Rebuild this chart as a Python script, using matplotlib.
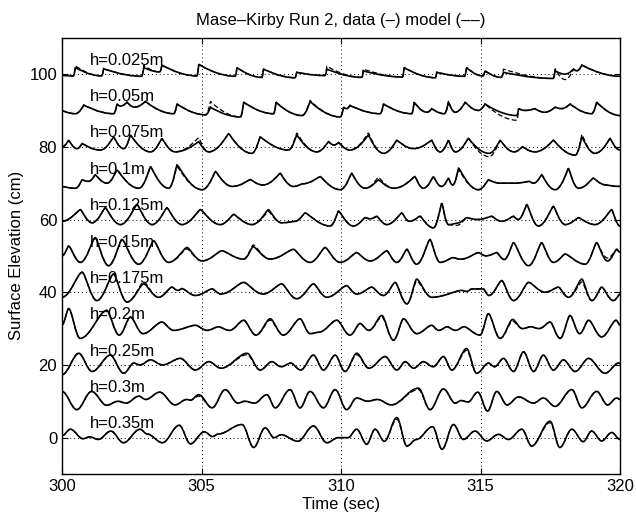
import matplotlib
matplotlib.use("Agg")
import matplotlib.pyplot as plt
from matplotlib.path import Path
from matplotlib.patches import PathPatch

plt.rcParams['font.family'] = ['Liberation Sans', 'DejaVu Sans']

# gauge water depths and the vertical offset each record is plotted at (cm)
depths = ["0.025", "0.05", "0.075", "0.1", "0.125", "0.15",
          "0.175", "0.2", "0.25", "0.3", "0.35"]
offsets = [100, 90, 80, 70, 60, 50, 40, 30, 20, 10, 0]

# crest / trough times (s) and elevations about the offset (cm);
# measured record and model share the same turning-point times
t_025 = [300.0, 300.40, 300.48, 301.42, 301.49, 302.85, 302.93, 303.50, 303.58, 304.83,
         304.90, 306.20, 306.27, 307.16, 307.22, 308.35, 308.41, 309.42, 309.49, 310.74,
         310.80, 312.20, 312.26, 313.38, 313.43, 314.42, 314.50, 315.08, 315.16, 315.74,
         315.82, 317.60, 317.67, 318.03, 318.33, 318.45, 318.63, 320.0]
data_025 = [-0.3, -0.5, 1.8, -0.5, 1.5, -0.6, 1.8, 0.6, 2.5, -0.5,
            2.7, -0.6, 1.8, -0.9, 1.4, -1.0, 0.5, -0.4, 1.4, -0.9,
            0.9, -0.8, 1.8, -1.0, 0.5, -0.6, 1.8, -0.5, 0.9, -0.9,
            0.5, -1.2, 0.9, 0.0, 1.4, 0.9, 2.5, -0.6]
model_025 = [-0.3, -0.5, 2.3, -0.5, 1.5, -0.6, 2.4, 0.6, 2.5, -0.5,
             2.7, -0.6, 1.8, -0.9, 1.4, -1.0, 0.5, -0.4, 2.2, -0.9,
             1.4, -0.8, 1.8, -1.0, 0.5, -0.6, 1.8, -0.5, 0.9, -0.9,
             1.4, -1.2, 1.5, -1.5, 1.4, 0.9, 2.5, -0.6]

t_05 = [300.0, 300.48, 300.78, 301.85, 301.97, 302.10, 302.33, 302.60, 302.99, 304.00,
        304.12, 305.14, 305.32, 306.39, 306.51, 307.58, 307.67, 308.60, 308.89, 309.97,
        310.09, 310.20, 310.32, 311.40, 311.52, 312.53, 312.62, 313.08, 313.25, 313.70,
        313.85, 314.09, 314.45, 314.92, 315.16, 316.30, 316.36, 316.60, 316.95, 317.30,
        317.67, 317.90, 318.21, 318.98, 319.16, 320.0]
data_05 = [0.0, -0.9, 1.5, -0.9, 1.8, 1.2, 2.3, 0.9, 2.5, -0.9,
           1.8, -1.2, 0.9, -1.8, 2.3, -0.9, 2.3, -1.4, 2.5, -1.8,
           0.9, 0.5, 1.4, -0.9, 1.8, -0.9, 2.3, -0.5, 0.5, -0.9,
           2.3, -0.5, 2.3, 0.0, 1.8, -1.4, 0.5, 0.0, 0.5, -0.5,
           0.9, 0.5, 1.8, -0.9, 2.3, -1.4]
model_05 = [0.0, -0.9, 1.5, -0.9, 1.8, 1.2, 2.3, 0.9, 2.5, -0.9,
            1.8, -1.2, 2.5, -1.8, 2.3, -0.9, 2.3, -1.4, 2.8, -1.8,
            0.9, 0.5, 1.4, -0.9, 1.8, -0.9, 2.3, -0.5, 0.5, -0.9,
            2.6, -0.5, 2.3, 0.0, 1.8, -2.7, 0.5, 0.0, 0.5, -0.5,
            0.9, 0.5, 1.8, -0.9, 2.3, -1.4]

t_075 = [300.0, 300.24, 300.54, 300.72, 301.37, 301.85, 302.21, 302.45, 303.17, 303.58,
         304.06, 304.90, 305.26, 305.97, 306.80, 307.10, 308.11, 308.41, 309.13, 309.55,
         309.75, 309.91, 310.32, 310.98, 311.52, 312.00, 312.60, 313.25, 313.55, 313.85,
         314.10, 314.56, 315.30, 315.70, 316.20, 316.50, 316.95, 317.61, 318.39, 318.63,
         319.10, 319.64, 320.0]
data_075 = [0.0, 1.8, -0.5, 0.9, -0.9, 2.7, -0.5, 3.2, -1.4, 2.3,
            -1.4, 1.4, -1.4, 3.6, -1.8, 2.7, -0.9, 3.2, -1.4, 1.4,
            0.5, 1.2, -0.9, 3.2, -1.8, 1.8, -0.5, 1.8, -1.4, 1.8,
            -1.4, 2.3, -1.8, 1.8, -1.4, 0.0, -1.4, 1.8, -2.3, 2.7,
            -1.8, 2.3, -0.9]
model_075 = [0.0, 1.8, -0.5, 0.9, -0.9, 2.7, -0.5, 3.2, -1.4, 2.3,
             -1.4, 2.5, -1.4, 3.6, -1.8, 2.7, -0.9, 3.8, -1.4, 1.4,
             0.5, 1.2, -0.9, 3.8, -1.8, 1.8, -0.5, 1.8, -1.4, 1.8,
             -1.4, 2.3, -2.7, 1.8, -1.4, 0.0, -1.4, 1.8, -2.3, 3.4,
             -1.8, 2.3, -0.9]

t_1 = [300.0, 300.48, 300.72, 300.95, 301.19, 301.61, 301.97, 302.75, 303.17, 303.82,
       304.12, 305.02, 305.50, 306.10, 306.75, 307.20, 307.82, 308.29, 308.60, 309.25,
       309.97, 310.38, 310.86, 311.34, 311.90, 312.65, 312.95, 313.31, 313.60, 313.85,
       314.00, 314.21, 314.92, 315.28, 315.70, 316.20, 316.75, 316.90, 317.19, 317.67,
       318.15, 318.51, 319.04, 319.50, 320.0]
data_1 = [-0.9, -1.4, 0.9, 0.5, 2.3, 0.0, 3.6, -1.4, 4.5, -1.4,
          5.0, -1.8, 3.2, -0.9, 1.0, -0.5, 2.7, -0.9, -0.2, 1.8,
          -1.8, 2.7, -1.4, 0.9, -1.4, 1.8, -1.4, 1.8, -0.9, 1.4,
          -0.5, 4.1, -1.8, 0.9, 0.0, 0.0, 0.5, 0.0, 2.3, -1.8,
          4.1, -1.4, 1.4, -0.5, -0.9]
model_1 = [-0.9, -1.4, 0.9, 0.5, 2.3, 0.0, 3.6, -1.4, 4.5, -1.4,
           4.5, -1.8, 3.2, -0.9, 1.0, -0.5, 2.7, -0.9, -0.2, 1.8,
           -1.8, 2.7, -1.4, 1.6, -1.4, 1.8, -1.4, 1.8, -0.9, 1.4,
           -0.5, 3.6, -1.8, 0.9, 0.0, 0.0, 0.5, 0.0, 2.3, -1.8,
           3.8, -1.4, 1.4, -0.5, -0.9]

t_125 = [300.0, 300.66, 301.08, 301.55, 302.09, 302.69, 303.23, 303.76, 304.30, 304.96,
         305.67, 306.15, 306.81, 307.40, 307.87, 308.35, 308.71, 309.61, 309.91, 310.44,
         310.86, 311.05, 311.28, 311.64, 312.18, 312.45, 312.83, 313.31, 313.61, 313.85,
         314.15, 314.50, 314.90, 315.40, 315.75, 316.18, 316.35, 316.66, 317.07, 317.61,
         318.03, 318.51, 319.10, 319.70, 320.0]
data_125 = [-0.5, 2.7, -0.9, 3.2, -1.4, 4.1, -1.4, 3.2, -1.4, 2.7,
            -1.4, 1.4, -1.4, 2.7, -0.9, -0.5, 1.8, -1.8, 2.3, -1.8,
            0.5, 0.2, 0.9, -1.4, 1.8, -0.5, 0.9, -2.3, 4.5, -1.4,
            -1.0, 0.5, 0.0, 0.9, -0.5, 0.9, 0.0, 4.1, -1.8, 3.6,
            -1.4, 0.5, -1.4, 2.7, -1.8]
model_125 = [-0.5, 2.7, -0.9, 3.2, -1.4, 4.1, -1.4, 3.2, -1.4, 2.7,
             -1.4, 1.4, -1.4, 2.2, -0.9, -0.5, 1.8, -1.8, 2.3, -1.8,
             0.5, 0.2, 0.9, -1.4, 1.8, -0.5, 0.9, -2.3, 4.2, -1.4,
             -1.6, 0.5, 0.0, 0.9, -0.5, 0.9, 0.0, 4.1, -1.8, 3.6,
             -1.4, 0.5, -1.4, 2.7, -1.8]

t_15 = [300.0, 300.24, 300.66, 301.19, 301.67, 302.15, 302.75, 303.29, 303.82, 304.48,
        305.02, 305.73, 306.51, 306.85, 307.46, 308.29, 308.89, 309.43, 309.97, 310.56,
        311.04, 311.64, 312.00, 312.36, 312.71, 313.19, 313.55, 314.00, 314.30, 314.92,
        315.20, 315.58, 315.85, 316.18, 316.72, 317.19, 317.61, 318.03, 318.75, 319.16,
        319.55, 319.88, 320.0]
data_15 = [0.0, 2.7, -1.8, 5.0, -2.7, 4.5, -2.3, 4.1, -1.8, 2.3,
           -1.4, 1.4, -0.9, 2.5, -0.9, 1.8, -1.8, 2.3, -1.8, 0.9,
           -1.4, 1.4, -1.8, 1.8, -2.3, 4.5, -1.8, -0.5, -0.9, 0.9,
           0.0, 0.9, -1.0, 3.6, -2.7, 3.6, -1.8, 0.5, -2.3, 3.6,
           -1.4, 1.8, 1.0]
model_15 = [0.0, 2.7, -1.8, 5.0, -2.7, 4.5, -2.3, 4.1, -1.8, 1.9,
            -1.4, 1.4, -0.9, 3.0, -0.9, 1.8, -1.8, 2.3, -1.8, 0.9,
            -1.4, 1.4, -1.8, 1.8, -2.3, 4.5, -1.8, -0.5, -0.9, 0.9,
            0.0, 0.9, -1.0, 3.6, -2.7, 3.6, -1.8, 0.5, -2.3, 3.6,
            -0.6, 1.8, 1.0]

t_175 = [300.0, 300.72, 301.25, 301.85, 302.33, 302.93, 303.46, 303.94, 304.15, 304.30,
         304.78, 305.38, 305.70, 306.51, 307.20, 307.87, 308.41, 309.01, 309.49, 310.20,
         310.56, 311.10, 311.52, 311.94, 312.36, 312.71, 313.25, 314.33, 314.50, 314.68,
         315.10, 315.30, 315.76, 316.18, 316.72, 317.31, 317.79, 318.15, 318.63, 318.99,
         319.34, 319.76, 320.0]
data_175 = [-1.4, 5.5, -2.3, 5.0, -2.7, 2.3, -1.4, 1.4, 0.5, 1.0,
            -0.9, 0.9, -0.5, 2.7, -0.5, 2.3, -1.8, 2.3, -1.4, 1.8,
            -0.5, 1.4, -0.9, 2.7, -3.2, 3.6, -1.4, 0.5, 0.2, 0.9,
            0.9, -0.9, 3.2, -2.3, 2.7, 0.0, 1.4, -1.4, 3.6, -2.3,
            1.4, -2.3, -0.5]
model_175 = [-1.4, 5.5, -2.3, 5.0, -2.7, 2.8, -1.4, 1.4, 0.5, 1.0,
             -0.9, 0.9, -0.5, 2.7, -0.5, 2.3, -1.8, 2.3, -1.4, 1.8,
             -0.5, 1.4, -0.9, 2.7, -3.2, 3.1, -1.4, 0.5, 0.2, 0.9,
             0.9, -0.9, 3.2, -2.3, 2.7, 0.0, 1.4, -1.4, 2.8, -2.3,
             1.4, -2.3, -0.5]

t_2 = [300.0, 300.24, 300.65, 301.60, 302.05, 302.45, 302.90, 303.58, 304.00, 304.78,
       305.20, 305.60, 306.00, 306.51, 306.95, 307.46, 307.93, 308.53, 308.89, 309.20,
       309.85, 310.32, 310.68, 311.00, 311.46, 311.88, 312.24, 312.71, 313.25, 313.50,
       313.80, 314.10, 314.40, 314.98, 315.28, 315.70, 316.15, 316.50, 316.80, 317.10,
       317.49, 317.85, 318.21, 318.55, 318.87, 319.34, 319.86, 320.0]
data_2 = [1.0, 5.5, -2.7, 5.0, -1.8, 3.2, -1.4, 1.8, -0.5, 0.9,
          -0.5, 0.5, -0.5, 2.3, -1.8, 2.7, -1.8, 2.7, -1.4, -1.0,
          2.3, -1.8, 1.4, -0.5, 3.6, -3.2, 2.7, -1.4, 0.9, -0.5,
          0.5, -0.5, 0.5, -1.8, 4.1, -2.7, 2.5, 0.0, 0.5, 0.0,
          1.8, -2.7, 3.6, -1.4, 2.3, -2.3, 2.3, 1.0]
model_2 = [1.0, 5.5, -2.7, 5.0, -1.8, 3.2, -1.4, 1.8, -0.5, 0.9,
           -0.5, 0.5, -0.5, 2.3, -1.8, 2.3, -1.8, 2.7, -1.4, -1.0,
           2.3, -1.8, 1.4, -0.5, 3.2, -3.2, 2.7, -1.4, 0.9, -0.5,
           0.5, -0.5, 0.5, -1.8, 4.1, -2.7, 2.0, 0.0, 0.5, 0.0,
           1.8, -2.7, 3.6, -1.4, 2.3, -2.3, 2.3, 1.0]

t_25 = [300.0, 300.60, 301.08, 301.73, 302.21, 302.57, 302.80, 303.17, 303.60, 304.24,
        304.78, 305.26, 305.70, 306.63, 307.10, 307.52, 307.85, 308.20, 308.55, 309.01,
        309.37, 309.79, 310.14, 310.56, 311.00, 311.58, 312.00, 312.30, 312.60, 312.95,
        313.30, 313.67, 313.97, 314.50, 314.86, 315.28, 315.50, 315.82, 316.18, 316.54,
        316.90, 317.25, 317.61, 317.97, 318.39, 318.87, 319.46, 319.94, 320.0]
data_25 = [-2.7, 3.2, -1.8, 2.7, -2.3, 0.5, 0.0, 1.4, 0.0, 1.8,
           -1.4, 0.9, -0.9, 3.2, -1.4, 0.9, -0.5, 0.5, -1.4, 2.7,
           -1.4, 2.7, -1.8, 3.2, -0.9, 2.3, -1.4, 0.9, -0.9, 0.9,
           -0.5, 2.3, -1.4, 4.5, -2.3, 0.5, -0.5, 1.8, -1.8, 3.6,
           -1.8, 2.7, -1.4, 1.4, -1.8, 1.8, -2.3, 0.5, 0.4]
model_25 = [-2.7, 3.2, -1.8, 2.7, -2.3, 0.5, 0.0, 1.4, 0.0, 1.8,
            -1.4, 0.9, -0.9, 2.8, -1.4, 0.9, -0.5, 0.5, -1.4, 2.7,
            -1.4, 2.7, -1.8, 2.8, -0.9, 2.3, -1.4, 0.9, -0.9, 0.9,
            -0.5, 2.3, -1.4, 4.0, -2.3, 0.5, -0.5, 1.8, -1.8, 3.6,
            -1.8, 2.7, -1.4, 1.4, -1.8, 1.8, -2.3, 0.5, 0.4]

t_3 = [300.0, 300.53, 301.06, 301.60, 302.00, 302.30, 302.75, 303.00, 303.50, 304.05,
       304.47, 304.60, 304.90, 305.38, 305.85, 306.30, 306.55, 306.90, 307.34, 307.64,
       308.17, 308.53, 308.89, 309.37, 309.79, 310.20, 310.56, 310.95, 311.30, 311.80,
       312.77, 313.19, 313.67, 314.09, 314.30, 314.55, 314.90, 315.25, 315.58, 315.95,
       316.36, 316.90, 317.25, 317.67, 318.27, 318.63, 319.16, 319.55, 319.88, 320.0]
data_3 = [2.7, -2.3, 2.7, -1.1, 0.0, -0.5, 1.4, 0.5, 2.5, -1.0,
          0.5, 0.3, 1.8, -1.8, 3.2, -0.5, 0.0, -0.5, 1.8, -1.8,
          3.2, -1.8, 2.7, -1.8, 3.2, -2.3, 0.9, 0.0, 0.5, -1.0,
          3.6, -2.3, 3.4, -0.5, 0.2, -0.2, 2.5, -2.7, 2.7, -1.0,
          1.2, -0.5, 0.9, -1.4, 3.2, -1.8, 2.7, -1.0, 0.9, 0.5]
model_3 = [2.7, -2.3, 2.7, -1.1, 0.0, -0.5, 1.4, 0.5, 2.5, -1.0,
           0.5, 0.3, 1.4, -1.8, 3.2, -0.5, 0.0, -0.5, 1.8, -1.8,
           3.2, -1.8, 2.7, -1.8, 3.2, -2.3, 0.9, 0.0, 0.5, -1.0,
           3.2, -2.3, 3.4, -0.5, 0.2, -0.2, 2.5, -2.7, 2.7, -1.0,
           1.2, -0.5, 0.9, -1.4, 3.2, -1.8, 2.7, -1.0, 0.9, 0.5]

t_35 = [300.0, 300.30, 300.75, 301.00, 301.30, 301.75, 302.20, 302.80, 303.05, 303.60,
        304.20, 304.60, 305.10, 305.40, 305.60, 306.45, 306.87, 307.28, 307.60, 307.85,
        308.45, 309.01, 309.49, 309.90, 310.25, 310.56, 310.92, 311.22, 311.55, 312.00,
        312.36, 312.70, 313.28, 313.62, 314.03, 314.38, 314.80, 315.22, 315.64, 316.00,
        316.48, 316.83, 317.49, 317.84, 318.27, 318.68, 318.98, 319.34, 319.70, 320.0]
data_35 = [0.5, 2.3, -0.3, 0.2, -0.5, 1.8, -1.4, 2.3, 1.0, -1.4,
           3.4, -1.7, 1.6, 0.3, 1.0, 3.6, -2.7, 2.7, 0.0, 0.8,
           -1.0, 3.2, -1.4, 0.0, 0.0, 2.3, -1.8, 2.3, -1.0, 5.5,
           -2.3, -0.5, 3.0, -3.2, 3.6, -0.5, 1.8, -0.9, 0.9, -0.5,
           2.3, -2.3, 4.5, -2.7, 2.3, -1.1, 1.8, -0.9, 1.4, -0.5]
model_35 = [0.5, 2.3, -0.3, 0.2, -0.5, 1.8, -1.4, 2.3, 1.0, -1.4,
            3.4, -1.7, 1.6, 0.3, 1.0, 3.6, -2.7, 2.7, 0.0, 0.8,
            -1.0, 3.2, -1.4, 0.0, 0.0, 2.3, -1.8, 2.3, -1.0, 5.0,
            -2.3, -0.5, 3.0, -3.2, 3.6, -0.5, 1.8, -0.9, 0.9, -0.5,
            2.3, -2.3, 4.1, -2.7, 2.3, -1.1, 1.8, -0.9, 1.4, -0.5]

times = [t_025, t_05, t_075, t_1, t_125, t_15, t_175, t_2, t_25, t_3, t_35]
measured = [data_025, data_05, data_075, data_1, data_125, data_15,
            data_175, data_2, data_25, data_3, data_35]
modelled = [model_025, model_05, model_075, model_1, model_125, model_15,
            model_175, model_2, model_25, model_3, model_35]

# wave shape: how far the handles reach at troughs and at crests
# (shallow gauges have sharp bores, deep ones are near-sinusoidal)
shape = [(0.5, 0.0), (0.5, 0.0), (0.5, 0.05), (0.5, 0.08), (0.45, 0.12),
         (0.42, 0.18), (0.4, 0.22), (0.38, 0.28), (0.36, 0.32),
         (0.36, 0.36), (0.36, 0.36)]


def wave_path(t, eta, base, k_low, k_high):
    # cubic segments between successive turning points, flat tangents there
    verts = [(t[0], base + eta[0])]
    codes = [Path.MOVETO]
    for i in range(len(t) - 1):
        t0, t1 = t[i], t[i + 1]
        y0, y1 = base + eta[i], base + eta[i + 1]
        d = t1 - t0
        k0, k1 = (k_low, k_high) if y1 >= y0 else (k_high, k_low)
        verts += [(t0 + k0 * d, y0), (t1 - k1 * d, y1), (t1, y1)]
        codes += [Path.CURVE4] * 3
    return Path(verts, codes)


fig = plt.figure(figsize=(6.36, 5.17), dpi=100)
ax = fig.add_axes([0.0975, 0.0832, 0.8775, 0.8438])

for h, off, t, dat, mod, (kl, kh) in zip(depths, offsets, times, measured,
                                          modelled, shape):
    ax.add_patch(PathPatch(wave_path(t, dat, off, kl, kh), fill=False,
                           edgecolor='black', linewidth=1.2))
    ax.add_patch(PathPatch(wave_path(t, mod, off, kl, kh), fill=False,
                           edgecolor='black', linewidth=0.9,
                           linestyle=(0, (4, 2))))
    ax.text(301.0, off + 3.8, "h=" + h + "m", fontsize=12, va='center')

ax.set_xlim(300, 320)
ax.set_ylim(-10, 110)
ax.set_xticks([300, 305, 310, 315, 320])
ax.set_yticks([0, 20, 40, 60, 80, 100])
ax.grid(True, color='black', linestyle=(0, (1, 3)), linewidth=0.7)
ax.tick_params(direction='in', top=True, right=True, labelsize=12, length=4)
for s in ax.spines.values():
    s.set_linewidth(1.0)

ax.set_title("Mase\u2013Kirby Run 2, data (\u2013) model (\u2013\u2013)",
             fontsize=12, pad=9)
ax.set_xlabel("Time (sec)", fontsize=12, labelpad=2)
ax.set_ylabel("Surface Elevation (cm)", fontsize=12)

fig.savefig("out.png", dpi=100)
